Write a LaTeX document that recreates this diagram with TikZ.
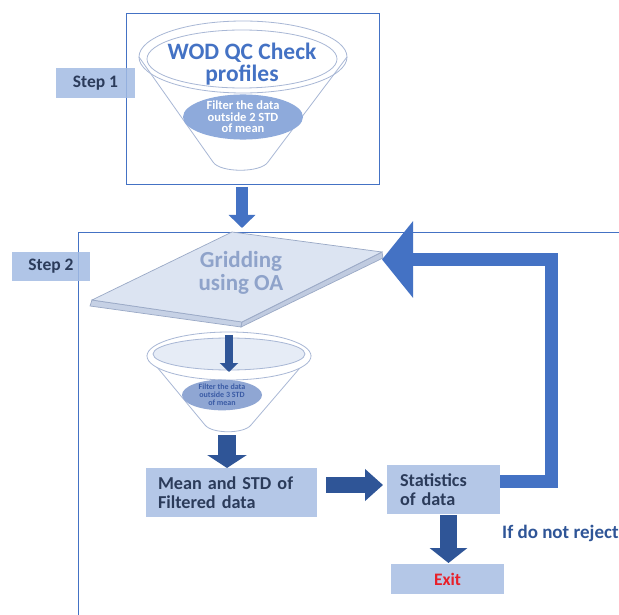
\documentclass[tikz,border=0pt]{standalone}
\usepackage{fontspec}
\setmainfont{Carlito}
\usetikzlibrary{arrows.meta,shapes.geometric}
\definecolor{obl}{HTML}{4472C4}
\definecolor{dbl}{HTML}{2F5597}
\definecolor{boxfill}{HTML}{B4C7E7}
\definecolor{stepfill}{HTML}{A3BCE3}
\definecolor{txtdark}{HTML}{2B3B5A}
\definecolor{funline}{HTML}{A8B7D5}
\definecolor{filtA}{HTML}{8EAADB}
\definecolor{filtB}{HTML}{8FA6D3}
\definecolor{filttxt}{HTML}{3A5BA5}
\definecolor{slabtop}{HTML}{DCE4F2}
\definecolor{slabside}{HTML}{C6D1E5}
\definecolor{slabline}{HTML}{9AA9C6}
\definecolor{gridtxt}{HTML}{8FA3CA}
\definecolor{exitred}{HTML}{E8202A}
\begin{document}
\begin{tikzpicture}[x=1pt,y=-1pt,font=\bfseries,
  fbox/.style={fill=boxfill,draw=none,inner sep=0pt},
  stepbox/.style={fill=stepfill,fill opacity=0.85,text opacity=1,draw=none,inner sep=0pt,
    minimum width=79pt,minimum height=30pt,text=txtdark,font=\bfseries\fontsize{17.5}{19}\selectfont},
  boxtxt/.style={text=txtdark,font=\bfseries\fontsize{18.2}{19}\selectfont,align=left},
  barrow/.style={line width=#1,line cap=butt,line join=miter},
  ]
\useasboundingbox (0,0) rectangle (619,615);
\fill[white] (0,0) rectangle (619,615);

% Step 1 frame and funnel
\node[draw=obl,line width=1.2pt,minimum width=253pt,minimum height=171pt,inner sep=0pt,anchor=north west] (box1) at (126,13) {};
\draw[funline,line width=0.8pt,fill=white] (139,57) -- (213,162) .. controls (220,173) and (261,173) .. (268,162) -- (347,57);
\draw[funline,line width=0.8pt] (243,57) ellipse [x radius=104, y radius=36];
\draw[funline,line width=0.8pt] (242,59) ellipse [x radius=95, y radius=29];
\node[text=obl,align=center,font=\bfseries\fontsize{23.5}{22}\selectfont] (wod) at (242,64) {WOD QC Check\\profiles};
\node[ellipse,fill=filtA,minimum width=120pt,minimum height=40pt,inner sep=0pt,text=white,align=center,
  font=\bfseries\fontsize{12.5}{11.5}\selectfont] (f1) at (243,117) {Filter the data\\outside 2 STD\\of mean};
\node[stepbox] (step1) at (95.5,83) {Step 1};

% Step 2 frame
\draw[obl,line width=1pt] (619,232) -- (78,232) -- (78,615);
\node[stepbox,minimum width=78pt,minimum height=29pt] (step2) at (51,266.5) {Step 2};

% gridding slab
\coordinate (sT) at (232,232);
\coordinate (sR) at (382,252);
\coordinate (sF) at (242,322);
\coordinate (sL) at (92,300);
\fill[slabside,draw=slabline,line width=0.7pt] (sL) -- (sF) -- (241,327) -- (90,306) -- cycle;
\fill[slabside!85!slabline,draw=slabline,line width=0.7pt] (sF) -- (sR) -- (383,258) -- (241,327) -- cycle;
\fill[slabtop,draw=slabline,line width=0.7pt] (sT) -- (sR) -- (sF) -- (sL) -- cycle;
\node[text=gridtxt,align=center,font=\bfseries\fontsize{23}{22.5}\selectfont] (grid) at (241,273) {Gridding\\using OA};

% funnel 2
\draw[funline,line width=0.8pt,fill=white] (147,355) -- (205,425) .. controls (212,434) and (244,434) .. (251,425) -- (311,355);
\draw[funline,line width=0.8pt,fill=white] (229,356) ellipse [x radius=82, y radius=24];
\draw[funline,line width=0.8pt,fill=slabtop!70!white] (229,354) ellipse [x radius=76, y radius=16];
\node[ellipse,fill=filtB,minimum width=80pt,minimum height=30pt,inner sep=0pt,text=filttxt,align=center,
  font=\bfseries\fontsize{8}{8}\selectfont] (f2) at (222,395) {Filter the data\\outside 3 STD\\of mean};

% boxes
\node[fbox,minimum width=171pt,minimum height=49pt,text width=147pt,inner xsep=12pt,boxtxt] (mean) at (231.5,492.5) {Mean and STD of\\Filtered data};
\node[fbox,minimum width=113pt,minimum height=49pt,text width=87pt,inner xsep=13pt,boxtxt] (stat) at (443.5,489.5) {Statistics\\of data};
\node[fbox,minimum width=113pt,minimum height=30pt,text=exitred,font=\bfseries\fontsize{17.5}{19}\selectfont] (exit) at (447.5,579) {Exit};
\node[anchor=west,text=dbl,inner sep=0pt,font=\bfseries\fontsize{19}{19}\selectfont] (rej) at (502,533) {If do not rejects};

% arrow end points
\coordinate (a1s) at (242,187);
\coordinate (a1e) at (242,228);
\coordinate (a2s) at (229,335);
\coordinate (a2e) at (229,372);
\coordinate (a3s) at (227,435);
\coordinate (a3e) at (227,468);
\coordinate (a4s) at (326,485);
\coordinate (a4e) at (383,485);
\coordinate (a5s) at (448.5,515);
\coordinate (a5e) at (448.5,563);
\coordinate (fbA) at (551,481);
\coordinate (fbB) at (551,259.5);
\coordinate (fbE) at (382,259.5);

\draw[obl,barrow=12pt,-{Triangle[length=13pt,width=26pt]}] (a1s) -- (a1e);
\draw[dbl,barrow=8pt,-{Triangle[length=9pt,width=18pt]}] (a2s) -- (a2e);
\draw[dbl,barrow=18pt,-{Triangle[length=13pt,width=39pt]}] (a3s) -- (a3e);
\draw[dbl,barrow=16pt,-{Triangle[length=18pt,width=31pt]}] (a4s) -- (a4e);
\draw[dbl,barrow=17pt,-{Triangle[length=15pt,width=37pt]}] (a5s) -- (a5e);
\draw[obl,barrow=13pt,-{Triangle[length=31pt,width=75pt]}] (stat.east |- fbA) -- (fbA) -- (fbB) -- (fbE);
\end{tikzpicture}
\end{document}
